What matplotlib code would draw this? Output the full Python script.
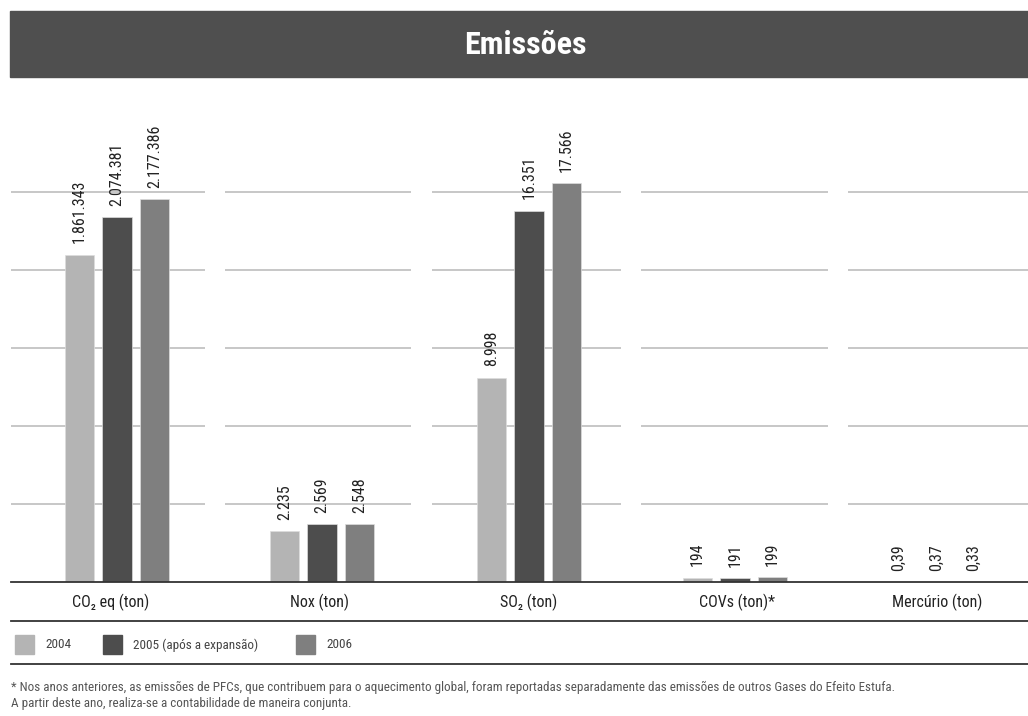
import matplotlib
matplotlib.use("Agg")
import matplotlib.pyplot as plt
from matplotlib import font_manager
from matplotlib.patches import Rectangle

# dados
categories = ["CO\u2082 eq (ton)", "Nox (ton)", "SO\u2082 (ton)", "COVs (ton)*", "Merc\u00fario (ton)"]
years = ["2004", "2005 (ap\u00f3s a expans\u00e3o)", "2006"]
v2004 = [1861343, 2235, 8998, 194, 0.39]
v2005 = [2074381, 2569, 16351, 191, 0.37]
v2006 = [2177386, 2548, 17566, 199, 0.33]
labels2004 = ["1.861.343", "2.235", "8.998", "194", "0,39"]
labels2005 = ["2.074.381", "2.569", "16.351", "191", "0,37"]
labels2006 = ["2.177.386", "2.548", "17.566", "199", "0,33"]
# topo da escala de cada painel (CO2 tem escala propria)
scale_top = [2660000, 20600, 20600, 20600, 20600]

colors = ["#b4b4b4", "#4d4d4d", "#7f7f7f"]
footnote = ["* Nos anos anteriores, as emiss\u00f5es de PFCs, que contribuem para o aquecimento global, "
            "foram reportadas separadamente das emiss\u00f5es de outros Gases do Efeito Estufa.",
            "A partir deste ano, realiza-se a contabilidade de maneira conjunta."]

# fonte condensada se houver
names = {f.name for f in font_manager.fontManager.ttflist}
FONT = "DejaVu Sans"
for cand in ["Roboto Condensed", "Liberation Sans Narrow", "DejaVu Sans Condensed", "Open Sans Condensed"]:
    if cand in names:
        FONT = cand
        break
plt.rcParams['font.family'] = [FONT, 'DejaVu Sans']

W, H = 1028, 716
fig = plt.figure(figsize=(W / 100, H / 100), dpi=100)


def fx(px):
    return px / W


def fy(py):
    return 1 - py / H


# faixa do titulo
fig.patches.append(Rectangle((fx(10), fy(77)), fx(1018), (77 - 11) / H,
                             transform=fig.transFigure, color="#4f4f4f", zorder=0))
fig.text(fx(525), fy(45), "Emiss\u00f5es", color="white", fontsize=23, fontweight="bold",
         ha="center", va="center")

# paineis: (esquerda, direita, centro do grupo) em pixels
panels = [(11, 205, 117), (225, 411, 322), (432, 621, 529), (641, 828, 735), (848, 1028, 936)]
step = 37.6
base_y, top_y = 582, 114

for i, (left, right, center) in enumerate(panels):
    ax = fig.add_axes([fx(left), fy(base_y), fx(right - left), (base_y - top_y) / H])
    ax.set_xlim((left - center) / step, (right - center) / step)
    top = scale_top[i]
    ax.set_ylim(0, top)
    for k in range(1, 6):
        ax.axhline(top * k / 6, color="#b8b8b8", lw=1.1, zorder=0)
    vals = [v2004[i], v2005[i], v2006[i]]
    labs = [labels2004[i], labels2005[i], labels2006[i]]
    for j in range(3):
        ax.bar(j - 1, vals[j], width=0.78, color=colors[j], edgecolor="#dddddd", lw=0.5, zorder=2)
        ax.annotate(labs[j], (j - 1, vals[j]), xytext=(0, 8), textcoords="offset points",
                    rotation=90, ha="center", va="bottom", fontsize=11.5, color="#222222")
    ax.axis("off")

# linhas horizontais
for py, lw in [(582, 1.3), (621, 1.3), (664, 1.3)]:
    fig.add_artist(plt.Line2D([fx(11), 1], [fy(py), fy(py)], color="#333333", lw=lw,
                              transform=fig.transFigure))

label_x = [111, 320, 529, 737, 937]
for c, x in zip(categories, label_x):
    fig.text(fx(x), fy(602), c, ha="center", va="center", fontsize=11.5, color="#222222")

# legenda
leg_x = [15, 103, 296]
for j, (x, name) in enumerate(zip(leg_x, years)):
    fig.patches.append(Rectangle((fx(x), fy(654)), fx(19), 19 / H,
                                 transform=fig.transFigure, color=colors[j]))
    fig.text(fx(x + 30), fy(645), name, ha="left", va="center", fontsize=9.5, color="#444444")

fig.text(fx(11), fy(687), footnote[0], ha="left", va="center", fontsize=9.4, color="#555555")
fig.text(fx(11), fy(703), footnote[1], ha="left", va="center", fontsize=9.4, color="#555555")

fig.savefig("out.png", dpi=100)
